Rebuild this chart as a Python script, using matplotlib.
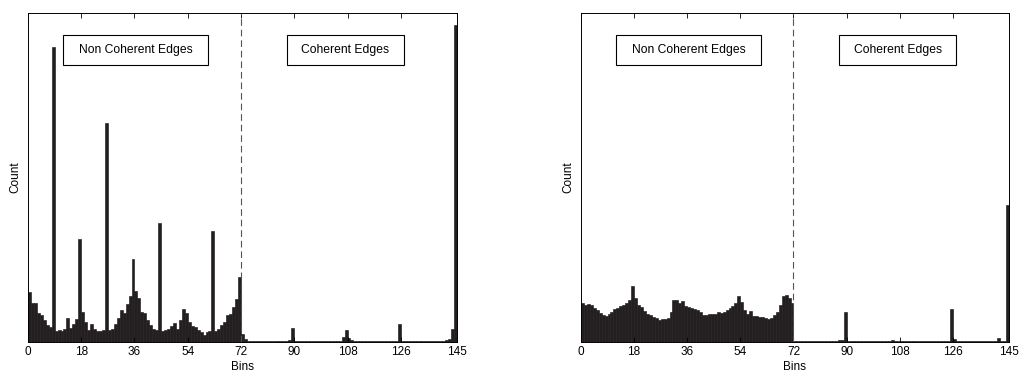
import numpy as np
import matplotlib
matplotlib.use('Agg')
import matplotlib.pyplot as plt
from matplotlib.patches import Rectangle

plt.rcParams['font.family'] = ['Liberation Sans', 'DejaVu Sans']

bins = np.arange(1, 146)
xticks = [0, 18, 36, 54, 72, 90, 108, 126, 145]

# normalised counts, bins 1..145 (left image)
left_counts = [
    0.151, 0.120, 0.118, 0.088, 0.082, 0.067, 0.052, 0.047, 0.898, 0.034,
    0.036, 0.033, 0.041, 0.072, 0.042, 0.055, 0.069, 0.313, 0.092, 0.062,
    0.036, 0.056, 0.040, 0.032, 0.032, 0.035, 0.665, 0.035, 0.040, 0.056,
    0.072, 0.096, 0.089, 0.117, 0.139, 0.252, 0.156, 0.135, 0.090, 0.088,
    0.066, 0.052, 0.041, 0.037, 0.361, 0.032, 0.035, 0.040, 0.048, 0.059,
    0.040, 0.066, 0.100, 0.088, 0.061, 0.048, 0.046, 0.037, 0.030, 0.021,
    0.030, 0.034, 0.338, 0.034, 0.040, 0.051, 0.061, 0.081, 0.085, 0.106,
    0.130, 0.197, 0.023, 0.009, 0.003, 0.002, 0.002, 0.002, 0.002, 0.002,
    0.003, 0.002, 0.002, 0.002, 0.002, 0.002, 0.002, 0.003, 0.005, 0.043,
    0.003, 0.002, 0.002, 0.002, 0.002, 0.002, 0.002, 0.002, 0.002, 0.002,
    0.002, 0.002, 0.002, 0.002, 0.003, 0.004, 0.016, 0.036, 0.012, 0.005,
    0.003, 0.002, 0.002, 0.002, 0.002, 0.002, 0.002, 0.002, 0.002, 0.002,
    0.002, 0.002, 0.002, 0.002, 0.004, 0.054, 0.003, 0.002, 0.002, 0.002,
    0.004, 0.002, 0.002, 0.002, 0.002, 0.002, 0.002, 0.002, 0.002, 0.002,
    0.003, 0.006, 0.010, 0.040, 0.963,
]

# normalised counts, bins 1..145 (right image)
right_counts = [
    0.119, 0.114, 0.115, 0.111, 0.103, 0.096, 0.088, 0.081, 0.079, 0.086,
    0.090, 0.100, 0.104, 0.109, 0.114, 0.120, 0.129, 0.170, 0.135, 0.113,
    0.105, 0.095, 0.085, 0.082, 0.076, 0.072, 0.068, 0.069, 0.070, 0.072,
    0.090, 0.128, 0.128, 0.120, 0.125, 0.110, 0.105, 0.103, 0.100, 0.096,
    0.090, 0.083, 0.082, 0.085, 0.084, 0.086, 0.090, 0.088, 0.092, 0.098,
    0.103, 0.110, 0.119, 0.139, 0.122, 0.096, 0.086, 0.093, 0.078, 0.078,
    0.076, 0.076, 0.074, 0.070, 0.072, 0.082, 0.092, 0.113, 0.139, 0.144,
    0.134, 0.118, 0.002, 0.002, 0.002, 0.002, 0.002, 0.002, 0.002, 0.002,
    0.002, 0.002, 0.002, 0.002, 0.002, 0.002, 0.002, 0.006, 0.007, 0.090,
    0.002, 0.002, 0.002, 0.002, 0.002, 0.002, 0.002, 0.002, 0.002, 0.002,
    0.002, 0.002, 0.002, 0.002, 0.003, 0.006, 0.003, 0.002, 0.002, 0.002,
    0.002, 0.002, 0.002, 0.002, 0.002, 0.002, 0.002, 0.002, 0.002, 0.002,
    0.002, 0.002, 0.002, 0.002, 0.003, 0.100, 0.008, 0.004, 0.004, 0.003,
    0.002, 0.002, 0.002, 0.002, 0.002, 0.002, 0.002, 0.002, 0.002, 0.002,
    0.004, 0.012, 0.004, 0.002, 0.415,
]

fig = plt.figure(figsize=(10.21, 3.76), dpi=100)
ax1 = fig.add_axes([0.0274, 0.0904, 0.4202, 0.875])
ax2 = fig.add_axes([0.569, 0.0904, 0.4192, 0.875])

for ax, counts in [(ax1, left_counts), (ax2, right_counts)]:
    # each bin drawn over (i-1, i], dark outline like the original bars
    ax.bar(bins, counts, width=-1, align='edge', color='#231f20',
           edgecolor='#231f20', linewidth=0.45)
    ax.axvline(72, color='#555555', lw=0.8, linestyle=(0, (6, 3.5)))
    ax.set_xlim(0, 145)
    ax.set_ylim(0, 1)
    ax.set_xticks(xticks)
    ax.set_yticks([])
    ax.tick_params(axis='x', direction='in', top=True, length=3.5, width=0.6,
                   labelsize=8.5, pad=3)
    for s in ax.spines.values():
        s.set_linewidth(0.7)
    ax.set_xlabel('Bins', fontsize=8.5, labelpad=2)
    ax.set_ylabel('Count', fontsize=8.5, labelpad=5)

    trans = ax.get_xaxis_transform()
    for x0, x1, label in [(11.9, 61.0, 'Non Coherent Edges'), (87.4, 127.2, 'Coherent Edges')]:
        ax.add_patch(Rectangle((x0, 0.842), x1 - x0, 0.091, transform=trans,
                               facecolor='white', edgecolor='black', lw=0.8))
        ax.text((x0 + x1) / 2, 0.8875, label, transform=trans, ha='center',
                va='center', fontsize=8.7)

fig.savefig('out.png', dpi=100)
